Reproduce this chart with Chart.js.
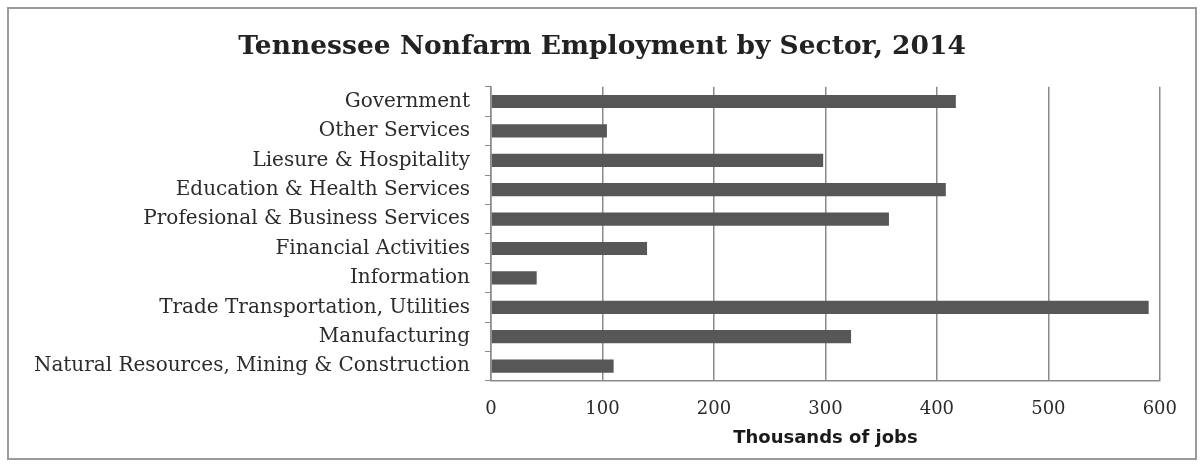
<!DOCTYPE html>
<html lang="en">
<head>
    <meta charset="UTF-8">
    <title>Tennessee Nonfarm Employment by Sector, 2014</title>
    <script src="https://cdn.jsdelivr.net/npm/chart.js"></script>
    <style>
        html, body { margin: 0; padding: 0; background: #fff; }
        .chart-box {
            position: absolute; left: 7px; top: 7px;
            width: 1186px; height: 449px;
            border: 2px solid #9a9a9a;
        }
    </style>
</head>
<body>
    <div class="chart-box">
        <canvas id="empChart"></canvas>
    </div>
    <script>
        // sectors, top to bottom as shown
        const sectors = [
            "Government",
            "Other Services",
            "Liesure & Hospitality",
            "Education & Health Services",
            "Profesional & Business Services",
            "Financial Activities",
            "Information",
            "Trade Transportation, Utilities",
            "Manufacturing",
            "Natural Resources, Mining & Construction"
        ];
        // thousands of jobs
        const jobs = [417, 104, 298, 408, 357, 140, 41, 590, 323, 110];
        const xTicks = [0, 100, 200, 300, 400, 500, 600];

        const ctx = document.getElementById('empChart').getContext('2d');
        new Chart(ctx, {
            type: 'bar',
            data: {
                labels: sectors,
                datasets: [{
                    label: 'Thousands of jobs',
                    data: jobs,
                    backgroundColor: '#575757',
                    borderWidth: 0,
                    barPercentage: 0.45,
                    categoryPercentage: 1
                }]
            },
            options: {
                indexAxis: 'y',
                responsive: true,
                maintainAspectRatio: false,
                animation: false,
                layout: { padding: { left: 0, right: 0, top: 4, bottom: 9 } },
                plugins: {
                    legend: { display: false },
                    tooltip: { enabled: false },
                    title: {
                        display: true,
                        text: 'Tennessee Nonfarm Employment by Sector, 2014',
                        color: '#222',
                        font: { family: 'DejaVu Serif', size: 26.5, weight: 'bold' },
                        padding: { top: 18, bottom: 24 }
                    }
                },
                scales: {
                    x: {
                        min: 0,
                        max: 600,
                        afterBuildTicks: function(scale) {
                            scale.ticks = xTicks.map(v => ({ value: v }));
                        },
                        grid: { color: '#8a8a8a', lineWidth: 1.5, drawTicks: false },
                        border: { color: '#8a8a8a', width: 1.5 },
                        ticks: {
                            color: '#2b2b2b',
                            padding: 18,
                            font: { family: 'DejaVu Serif', size: 18 }
                        },
                        title: {
                            display: true,
                            text: 'Thousands of jobs',
                            color: '#1a1a1a',
                            font: { family: 'DejaVu Sans', size: 18, weight: 'bold' },
                            padding: { top: -11, bottom: 0 }
                        }
                    },
                    y: {
                        afterFit: function(scale) { scale.width = 482; },
                        grid: { drawOnChartArea: false, color: '#8a8a8a', tickLength: 6 },
                        border: { color: '#8a8a8a', width: 1.5 },
                        ticks: {
                            color: '#2b2b2b',
                            padding: 15,
                            autoSkip: false,
                            font: { family: 'DejaVu Serif', size: 20 }
                        }
                    },
                    // empty right margin so the title centres on the whole frame
                    yRight: {
                        type: 'category',
                        position: 'right',
                        afterFit: function(scale) { scale.width = 33; },
                        grid: { display: false },
                        border: { display: false },
                        ticks: { display: false }
                    }
                }
            }
        });
    </script>
</body>
</html>
